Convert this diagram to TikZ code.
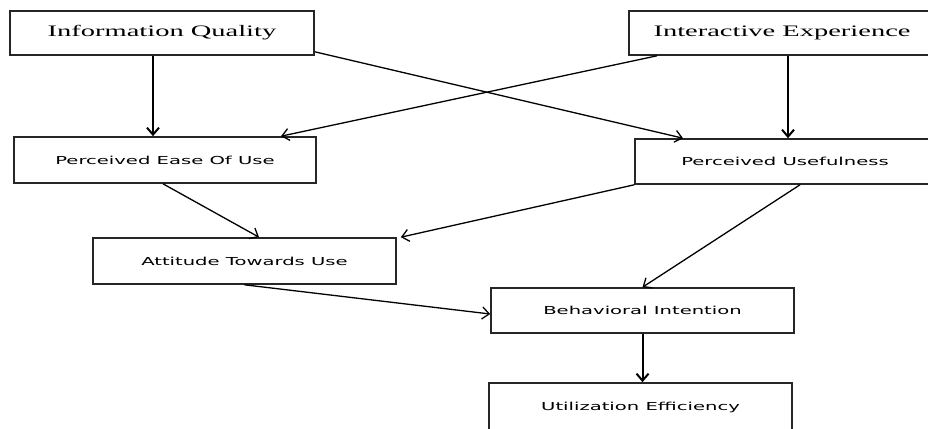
\documentclass[tikz,border=0pt]{standalone}
\usepackage{fontspec}
\usetikzlibrary{arrows.meta}
\newfontfamily\serifwide[FakeStretch=1.78]{Liberation Serif}
\newfontfamily\sanswide[FakeStretch=1.78]{DejaVu Sans}
\begin{document}
\begin{tikzpicture}[x=1pt,y=-1pt,
  box/.style={draw=black!85, line width=1.6pt, rectangle, inner sep=0pt, minimum width=303pt, minimum height=46pt, font=\sanswide\fontsize{11}{13}\selectfont},
  topbox/.style={box, minimum height=44pt, font=\serifwide\fontsize{16}{18}\selectfont},
  arr/.style={-{Straight Barb[length=7pt,width=12pt]}, line width=1.3pt},
  varr/.style={arr, line width=2pt}]
\useasboundingbox (0,0) rectangle (928,428);
\clip (0,0) rectangle (928,428);
\node[topbox, minimum width=304pt] (iq) at (162,33) {Information Quality};
\node[topbox, minimum width=306pt] (ie) at (782,33) {Interactive Experience};
\node[box, minimum width=302pt] (peou) at (165,160) {Perceived Ease Of Use};
\node[box, minimum width=300pt, minimum height=45pt] (pu) at (785,161.5) {Perceived Usefulness};
\node[box] (atu) at (244.5,261) {Attitude Towards Use};
\node[box, minimum height=45pt] (bi) at (642.5,310.5) {Behavioral Intention};
\node[box, minimum height=48pt] (ue) at (640.5,407) {Utilization Efficiency};
% top layer
\draw[varr] ([xshift=-9pt]iq.south) -- ([xshift=-12pt]peou.north);
\draw[varr] ([xshift=6pt]ie.south) -- ([xshift=3pt]pu.north);
\draw[arr] ([yshift=4pt]iq.south east) -- ([xshift=-102pt]pu.north);
\draw[arr] ([xshift=-125pt]ie.south) -- ([xshift=116pt]peou.north);
% middle layer
\draw[arr] ([xshift=-2pt]peou.south) -- ([xshift=14.5pt]atu.north);
\draw[arr] (pu.south west) -- ([xshift=4pt]atu.north east);
\draw[arr] ([xshift=15pt]pu.south) -- (bi.north);
\draw[arr] (atu.south) -- ([yshift=-3.5pt]bi.west);
\draw[varr] (bi.south) -- (bi.south |- ue.north);
\end{tikzpicture}
\end{document}
